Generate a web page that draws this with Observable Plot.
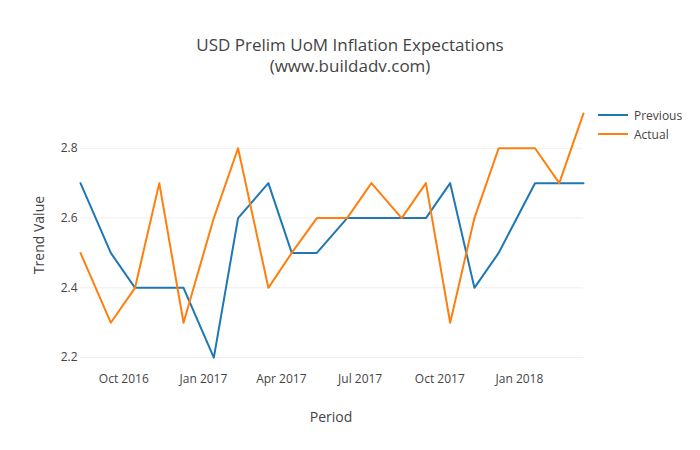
<!DOCTYPE html>
<html>
<head>
<meta charset="utf-8">
<script src="https://cdn.jsdelivr.net/npm/d3@7"></script>
<script src="https://cdn.jsdelivr.net/npm/@observablehq/plot@0.6"></script>
<style>
  html, body { margin: 0; padding: 0; background: #fff; }
  #wrap { position: relative; width: 700px; height: 450px; font-family: "Open Sans", sans-serif; color: #444; }
  #wrap svg { position: absolute; left: 0; top: 0; }
  .abs { position: absolute; white-space: nowrap; }
  .title { left: 0; width: 700px; text-align: center; font-size: 17px; line-height: 21px; }
  .leg { font-size: 12px; display: flex; align-items: center; }
  .sw { width: 30px; height: 2px; margin-right: 6px; }
</style>
</head>
<body>
<div id="wrap"></div>
<script>
const periods = ["2016-08-12","2016-09-16","2016-10-14","2016-11-11","2016-12-09","2017-01-13","2017-02-10","2017-03-17","2017-04-13","2017-05-12","2017-06-16","2017-07-14","2017-08-18","2017-09-15","2017-10-13","2017-11-10","2017-12-08","2018-01-19","2018-02-16","2018-03-16"];
const previous = [2.7, 2.5, 2.4, 2.4, 2.4, 2.2, 2.6, 2.7, 2.5, 2.5, 2.6, 2.6, 2.6, 2.6, 2.7, 2.4, 2.5, 2.7, 2.7, 2.7];
const actual   = [2.5, 2.3, 2.4, 2.7, 2.3, 2.6, 2.8, 2.4, 2.5, 2.6, 2.6, 2.7, 2.6, 2.7, 2.3, 2.6, 2.8, 2.8, 2.7, 2.9];
const xTicks = ["2016-10-01","2017-01-01","2017-04-01","2017-07-01","2017-10-01","2018-01-01"];
const yTicks = [2.2, 2.4, 2.6, 2.8];
const seriesNames = ["Previous", "Actual"];
const seriesColors = ["#1f77b4", "#ff7f0e"];

const parse = d3.utcParse("%Y-%m-%d");
const dates = periods.map(parse);
const rows = [];
[previous, actual].forEach((vals, s) => {
  vals.forEach((v, i) => rows.push({date: dates[i], value: v, series: seriesNames[s]}));
});

const chart = Plot.plot({
  width: 700,
  height: 450,
  marginTop: 100,
  marginBottom: 80,
  marginLeft: 80,
  marginRight: 117,
  style: {fontFamily: "'Open Sans', sans-serif", color: "#444", background: "transparent"},
  x: {type: "utc", domain: [dates[0], dates[dates.length - 1]], label: null},
  y: {domain: [2.163, 2.937], label: null},
  color: {domain: seriesNames, range: seriesColors},
  marks: [
    Plot.gridY(yTicks, {stroke: "#eee", strokeOpacity: 1, strokeWidth: 1}),
    Plot.axisY(yTicks, {tickSize: 0, tickPadding: 3, fontSize: 12, fill: "#444", tickFormat: d => d.toFixed(1), label: null}),
    Plot.axisX(xTicks.map(parse), {tickSize: 0, tickPadding: 4, fontSize: 12, fill: "#444", tickFormat: d3.utcFormat("%b %Y"), label: null}),
    Plot.lineY(rows, {x: "date", y: "value", z: "series", stroke: "series", strokeWidth: 2, curve: "linear"})
  ]
});

const wrap = document.getElementById("wrap");
wrap.appendChild(chart);

function addDiv(cls, text, style) {
  const d = document.createElement("div");
  d.className = "abs " + cls;
  d.textContent = text;
  Object.assign(d.style, style);
  wrap.appendChild(d);
  return d;
}
addDiv("title", "USD Prelim UoM Inflation Expectations", {top: "34px"});
addDiv("title", "(www.buildadv.com)", {top: "55px"});
addDiv("", "Period", {left: "331px", top: "416px", fontSize: "14px", transform: "translate(-50%,-50%)"});
addDiv("", "Trend Value", {left: "38px", top: "235px", fontSize: "14px", transform: "translate(-50%,-50%) rotate(-90deg)"});

seriesNames.forEach((name, i) => {
  const d = document.createElement("div");
  d.className = "abs leg";
  d.style.left = "598px";
  d.style.top = (106 + i * 19) + "px";
  d.style.height = "18px";
  const sw = document.createElement("div");
  sw.className = "sw";
  sw.style.background = seriesColors[i];
  const t = document.createElement("span");
  t.textContent = name;
  d.appendChild(sw);
  d.appendChild(t);
  wrap.appendChild(d);
});
</script>
</body>
</html>
